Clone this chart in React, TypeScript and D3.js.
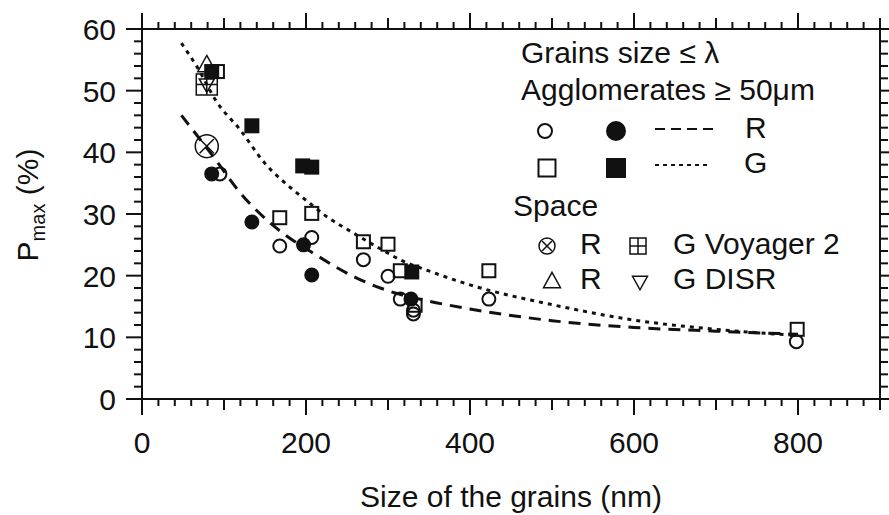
import * as d3 from "d3";
import React, { useEffect, useRef } from "react";

// grain size (nm), Pmax (%)
const openCircles: [number, number][] = [
  [95, 36.5], [168, 24.8], [207, 26.2], [270, 22.6], [300, 19.9],
  [315, 16.2], [331, 14.4], [331, 13.8], [423, 16.2], [798, 9.3],
];
const filledCircles: [number, number][] = [
  [85, 36.5], [134, 28.7], [197, 25], [207, 20.1], [328, 16.2],
];
const openSquares: [number, number][] = [
  [92, 53.1], [168, 29.4], [207, 30.1], [270, 25.5], [300, 25.1],
  [315, 20.8], [333, 15.2], [423, 20.8], [799, 11.3],
];
const filledSquares: [number, number][] = [
  [85, 53.1], [134, 44.3], [196, 37.8], [207, 37.6], [329, 20.6],
];
const spaceRCross: [number, number][] = [[79, 41]];
const spaceGVoyager: [number, number][] = [[79, 51]];
const spaceRTriangle: [number, number][] = [[79, 54.4]];
const spaceGDisr: [number, number][] = [[79, 50.8]];

// fitted curves
const curveR: [number, number][] = [
  [48, 46], [87, 39.3], [120, 33.4], [164, 27.7], [213, 23.3], [262, 19.6],
  [311, 17.1], [345, 16], [400, 14.6], [500, 12.7], [600, 11.6], [700, 11], [800, 10.5],
];
const curveG: [number, number][] = [
  [48, 57.7], [67, 53.9], [91, 48.2], [120, 43.6], [150, 38.2], [180, 34.4],
  [205, 31.7], [225, 29.6], [258, 26.9], [290, 24.4], [319, 22.3], [345, 21],
  [400, 18.5], [500, 15.3], [600, 12.8], [700, 11.3], [800, 10.3],
];

const xTicks = [0, 200, 400, 600, 800];
const yTicks = [0, 10, 20, 30, 40, 50, 60];

const FONT = "'Liberation Sans', Arial, sans-serif";
const FS = "30px";

const App: React.FC = () => {
  const svgRef = useRef<SVGSVGElement>(null);

  useEffect(() => {
    const svg = d3.select(svgRef.current);
    svg.selectAll("*").remove();

    const x = d3.scaleLinear().domain([0, 900]).range([142, 880]);
    const y = d3.scaleLinear().domain([0, 60]).range([399, 29]);

    const ink = "#111";

    // ticks all around, pointing outward
    const ticks = svg.append("g").attr("stroke", ink).attr("stroke-width", 2);
    d3.range(0, 901, 20).forEach((v) => {
      const len = v % 200 === 0 ? 16 : v % 100 === 0 ? 11 : 7;
      ticks.append("line").attr("x1", x(v)).attr("x2", x(v)).attr("y1", y(0)).attr("y2", y(0) + len);
      ticks.append("line").attr("x1", x(v)).attr("x2", x(v)).attr("y1", y(60)).attr("y2", y(60) - len);
    });
    d3.range(0, 61, 2).forEach((v) => {
      const len = v % 10 === 0 ? 16 : 8;
      ticks.append("line").attr("x1", x(0)).attr("x2", x(0) - len).attr("y1", y(v)).attr("y2", y(v));
      ticks.append("line").attr("x1", x(900)).attr("x2", x(900) + len).attr("y1", y(v)).attr("y2", y(v));
    });

    svg.append("rect")
      .attr("x", x(0)).attr("y", y(60))
      .attr("width", x(900) - x(0)).attr("height", y(0) - y(60))
      .attr("fill", "none").attr("stroke", ink).attr("stroke-width", 2);

    svg.append("g").selectAll("text").data(xTicks).join("text")
      .attr("x", (d) => x(d)).attr("y", 453)
      .attr("text-anchor", "middle")
      .style("font-family", FONT).style("font-size", FS).attr("fill", ink)
      .text((d) => d);

    svg.append("g").selectAll("text").data(yTicks).join("text")
      .attr("x", 116).attr("y", (d) => y(d) + 11)
      .attr("text-anchor", "end")
      .style("font-family", FONT).style("font-size", FS).attr("fill", ink)
      .text((d) => d);

    svg.append("text")
      .attr("x", 511).attr("y", 507)
      .attr("text-anchor", "middle")
      .style("font-family", FONT).style("font-size", FS).attr("fill", ink)
      .text("Size of the grains (nm)");

    const yl = svg.append("text")
      .attr("transform", "translate(38,205) rotate(-90)")
      .attr("text-anchor", "middle")
      .style("font-family", FONT).style("font-size", FS).attr("fill", ink);
    yl.append("tspan").text("P");
    yl.append("tspan").attr("dy", 7).style("font-size", "20px").text("max");
    yl.append("tspan").attr("dy", -7).text(" (%)");

    // fitted curves
    const line = d3.line<[number, number]>()
      .x((d) => x(d[0])).y((d) => y(d[1]))
      .curve(d3.curveMonotoneX);
    svg.append("path").attr("d", line(curveR))
      .attr("fill", "none").attr("stroke", ink).attr("stroke-width", 3)
      .attr("stroke-dasharray", "12 8");
    svg.append("path").attr("d", line(curveG))
      .attr("fill", "none").attr("stroke", ink).attr("stroke-width", 3)
      .attr("stroke-dasharray", "4 5");

    const pts = svg.append("g").attr("stroke", ink).attr("stroke-width", 2);

    const drawCircle = (g, cx: number, cy: number, r: number, fill: string) =>
      g.append("circle").attr("cx", cx).attr("cy", cy).attr("r", r).attr("fill", fill);
    const drawSquare = (g, cx: number, cy: number, s: number, fill: string) =>
      g.append("rect").attr("x", cx - s / 2).attr("y", cy - s / 2).attr("width", s).attr("height", s).attr("fill", fill);
    const drawTri = (g, cx: number, cy: number, s: number, up: boolean) => {
      const h = s * 0.9;
      const d = up
        ? `M${cx},${cy - h / 2}L${cx + s / 2},${cy + h / 2}L${cx - s / 2},${cy + h / 2}Z`
        : `M${cx},${cy + h / 2}L${cx + s / 2},${cy - h / 2}L${cx - s / 2},${cy - h / 2}Z`;
      g.append("path").attr("d", d).attr("fill", "none");
    };
    const drawCross = (g, cx: number, cy: number, r: number) => {
      drawCircle(g, cx, cy, r, "none");
      const k = r * 0.62;
      g.append("path").attr("d", `M${cx - k},${cy - k}L${cx + k},${cy + k}M${cx - k},${cy + k}L${cx + k},${cy - k}`);
    };
    const drawPlus = (g, cx: number, cy: number, s: number) => {
      drawSquare(g, cx, cy, s, "none");
      g.append("path").attr("d", `M${cx},${cy - s / 2}V${cy + s / 2}M${cx - s / 2},${cy}H${cx + s / 2}`);
    };

    spaceGVoyager.forEach((d) => drawPlus(pts.append("g").attr("stroke-width", 1.5), x(d[0]), y(d[1]), 21));
    spaceGDisr.forEach((d) => drawTri(pts.append("g").attr("stroke-width", 1.5), x(d[0]), y(d[1]), 15, false));
    spaceRTriangle.forEach((d) => drawTri(pts.append("g").attr("stroke-width", 1.5), x(d[0]), y(d[1]), 18, true));
    spaceRCross.forEach((d) => drawCross(pts.append("g").attr("stroke-width", 1.5), x(d[0]), y(d[1]), 11.5));

    openSquares.forEach((d) => drawSquare(pts, x(d[0]), y(d[1]), 13, "none"));
    openCircles.forEach((d) => drawCircle(pts, x(d[0]), y(d[1]), 6.5, "none"));
    filledCircles.forEach((d) => drawCircle(pts, x(d[0]), y(d[1]), 6.5, ink));
    filledSquares.forEach((d) => drawSquare(pts, x(d[0]), y(d[1]), 13, ink));

    // legend
    const lg = svg.append("g");
    const txt = (tx: number, ty: number, s: string) =>
      lg.append("text").attr("x", tx).attr("y", ty)
        .style("font-family", FONT).style("font-size", FS).attr("fill", ink).text(s);
    txt(521, 63, "Grains size \u2264 \u03bb");
    txt(521, 100, "Agglomerates \u2265 50\u03bcm");
    const ls = lg.append("g").attr("stroke", ink).attr("stroke-width", 2);
    drawCircle(ls, 545, 131, 7, "none");
    drawCircle(ls, 616, 131, 9, ink);
    ls.append("line").attr("x1", 655).attr("x2", 716).attr("y1", 129).attr("y2", 129)
      .attr("stroke-width", 2).attr("stroke-dasharray", "10 6");
    txt(745, 138, "R");
    drawSquare(ls, 547, 168, 17, "none");
    drawSquare(ls, 616, 168, 18, ink);
    ls.append("line").attr("x1", 655).attr("x2", 708).attr("y1", 165).attr("y2", 165)
      .attr("stroke-width", 2).attr("stroke-dasharray", "4 4");
    txt(744, 173, "G");
    txt(513, 216, "Space");
    drawCross(ls.append("g").attr("stroke-width", 1.5), 547, 246, 8);
    txt(580, 254, "R");
    drawPlus(ls.append("g").attr("stroke-width", 1.5), 638, 246, 16);
    txt(673, 254, "G Voyager 2");
    drawTri(ls.append("g").attr("stroke-width", 1.5), 552, 280, 17, true);
    txt(580, 289, "R");
    drawTri(ls.append("g").attr("stroke-width", 1.5), 640, 283, 15, false);
    txt(673, 289, "G DISR");
  }, []);

  return (
    <svg
      ref={svgRef}
      width={889}
      height={515}
      style={{ position: "absolute", left: 0, top: 0, background: "#fff" }}
    />
  );
};

export default App;
